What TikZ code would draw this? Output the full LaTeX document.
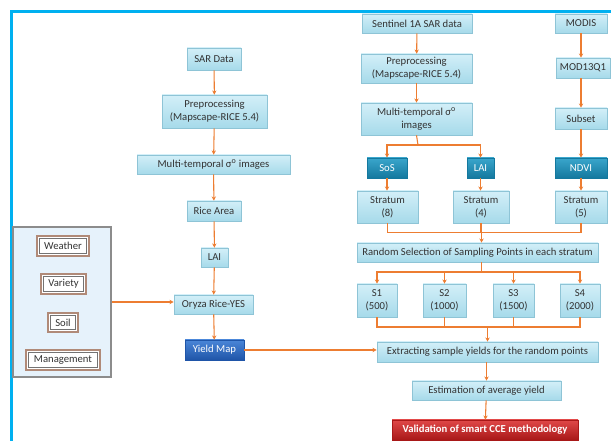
\documentclass[tikz,border=0pt]{standalone}
\usepackage{fontspec}
\setmainfont{Carlito}
\usetikzlibrary{arrows.meta,shadows}
\definecolor{frameblue}{HTML}{00B0F0}
\definecolor{arrowor}{HTML}{ED7D31}
\definecolor{lbtop}{HTML}{D3EFF8}
\definecolor{lbbot}{HTML}{A6DAEA}
\definecolor{lbdraw}{HTML}{8EC4D6}
\definecolor{txtgray}{HTML}{333333}
\definecolor{tealtop}{HTML}{3AA6CC}
\definecolor{tealbot}{HTML}{14789E}
\definecolor{ymtop}{HTML}{4A86D8}
\definecolor{ymbot}{HTML}{1F55A8}
\definecolor{redtop}{HTML}{E04848}
\definecolor{redbot}{HTML}{A81818}
\definecolor{panelfill}{HTML}{E6F2FB}
\definecolor{tagout}{HTML}{B08A78}
\tikzset{
  base/.style={inner sep=0pt, align=center, font=\fontsize{8}{10}\selectfont,
    drop shadow={shadow xshift=0.9pt, shadow yshift=-0.9pt, opacity=0.35, fill=black!60}},
  lbox/.style={base, top color=lbtop, bottom color=lbbot, draw=lbdraw, line width=0.4pt, text=txtgray},
  tbox/.style={base, top color=tealtop, bottom color=tealbot, draw=tealbot, line width=0.4pt, text=white},
  ybox/.style={base, top color=ymtop, bottom color=ymbot, draw=ymbot, line width=0.4pt, text=white},
  rbox/.style={base, top color=redtop, bottom color=redbot, draw=redbot, line width=0.4pt, text=white, font=\fontsize{8}{10}\selectfont\bfseries},
  panel/.style={inner sep=0pt, fill=panelfill, draw=black!45, line width=1.6pt},
  tag/.style={inner sep=0pt, fill=white, draw=tagout, line width=1.3pt, text=txtgray,
    font=\fontsize{8}{10}\selectfont,
    path picture={\draw[black!55, line width=0.9pt]
      ([shift={(1.6pt,-1.6pt)}]path picture bounding box.north west) rectangle
      ([shift={(-1.6pt,1.6pt)}]path picture bounding box.south east);}},
  arr/.style={draw=arrowor, line width=0.8pt, -{Stealth[length=3.2pt,width=3.2pt]}},
  ln/.style={draw=arrowor, line width=0.8pt}
}
\newcommand{\bx}[7]{\node[#2, minimum width={0.75pt*(#5-#3)}, minimum height={0.75pt*(#6-#4)}] (#1) at ({(#3+#5)/2},{(#4+#6)/2}) {#7};}
\begin{document}
\begin{tikzpicture}[x=0.75pt,y=-0.75pt]
\useasboundingbox (0,0) rectangle (611,441);
\clip (0,0) rectangle (611,441);
\fill[white] (0,0) rectangle (611,441);
\draw[frameblue, line width=2pt] (11.5,11.5) rectangle (640,470);

% left column
\bx{sar}{lbox}{187}{48}{241}{70}{SAR Data}
\bx{prel}{lbox}{162}{95}{267}{128}{Preprocessing\\(Mapscape-RICE 5.4)}
\bx{multl}{lbox}{137}{155}{290}{174}{Multi-temporal σ\textsuperscript{o} images}
\bx{rice}{lbox}{187}{201}{241}{221}{Rice Area}
\bx{lail}{lbox}{201}{248}{228}{267}{LAI}
\bx{oryza}{lbox}{174}{295}{253}{314}{Oryza Rice-YES}
\bx{yield}{ybox}{185}{340}{244}{360}{Yield Map}

% panel
\bx{panel}{panel}{13}{227}{111}{377}{}
\bx{weather}{tag}{37}{236}{89}{256}{Weather}
\bx{variety}{tag}{41}{274}{86}{294}{Variety}
\bx{soil}{tag}{48}{313}{78}{332}{Soil}
\bx{manag}{tag}{26}{350}{100}{370}{Management}

% right part
\bx{sent}{lbox}{362}{14}{472}{33}{Sentinel 1A SAR data}
\bx{prer}{lbox}{361}{54}{472}{83}{Preprocessing\\(Mapscape-RICE 5.4)}
\bx{multr}{lbox}{361}{103}{472}{135}{Multi-temporal σ\textsuperscript{o}\\images}
\bx{sos}{tbox}{367}{158}{407}{178}{SoS}
\bx{lair}{tbox}{467}{158}{494}{178}{LAI}
\bx{modis}{lbox}{555}{14}{607}{33}{MODIS}
\bx{mod}{lbox}{556}{58}{610}{78}{MOD13Q1}
\bx{subset}{lbox}{555}{108}{607}{129}{Subset}
\bx{ndvi}{tbox}{555}{158}{607}{178}{NDVI}
\bx{str8}{lbox}{357}{191}{418}{223}{Stratum\\(8)}
\bx{str4}{lbox}{453}{191}{509}{223}{Stratum\\(4)}
\bx{str5}{lbox}{555}{191}{607}{223}{Stratum\\(5)}
\bx{rand}{lbox}{357}{243}{598}{262}{Random Selection of Sampling Points in each stratum}
\bx{s1}{lbox}{357}{284}{397}{317}{S1\\(500)}
\bx{s2}{lbox}{423}{284}{466}{317}{S2\\(1000)}
\bx{s3}{lbox}{493}{284}{534}{317}{S3\\(1500)}
\bx{s4}{lbox}{560}{284}{600}{317}{S4\\(2000)}
\bx{extr}{lbox}{377}{342}{598}{362}{Extracting sample yields for the random points}
\bx{estim}{lbox}{412}{381}{561}{400}{Estimation of average yield}
\bx{valid}{rbox}{392}{420}{578}{440}{Validation of smart CCE methodology}

% left connectors
\draw[arr] (sar) -- (prel);
\draw[arr] (prel) -- (multl);
\draw[arr] (multl) -- (rice);
\draw[arr] (rice) -- (lail);
\draw[arr] (lail) -- (oryza);
\draw[arr] (oryza) -- (yield);
\draw[arr] (panel.east) -- (panel.east -| oryza.west);
\coordinate (yj) at (yield.east);
\draw[arr] (yj) -- (yj -| extr.west);

% right connectors
\draw[arr] (sent) -- (prer);
\draw[arr] (prer) -- (multr);
\coordinate (b1) at (418,145);
\draw[ln] (multr.south) -- (b1);
\draw[arr] (b1) -| (sos.north);
\draw[arr] (b1) -| (lair.north);
\draw[arr] (sos) -- (sos |- str8.north);
\draw[arr] (lair) -- (lair |- str4.north);
\draw[arr] (modis) -- (modis |- mod.north);
\draw[arr] (mod.south -| modis) -- (modis |- subset.north);
\draw[arr] (subset) -- (ndvi);
\draw[arr] (ndvi) -- (str5);
\coordinate (m1) at (481.5,232.5);
\draw[ln] (str8.south) |- (m1);
\draw[ln] (str5.south) |- (m1);
\draw[ln] (str4.south) -- (str4.south |- m1);
\draw[arr] (m1) -- (m1 |- rand.north);
\coordinate (b2) at (481.5,272);
\draw[ln] (b2 |- rand.south) -- (b2);
\draw[arr] (b2) -| (s1.north);
\draw[arr] (b2) -| (s2.north);
\draw[arr] (b2) -| (s3.north);
\draw[arr] (b2) -| (s4.north);
\coordinate (m2) at (487.5,327);
\draw[ln] (s1.south) |- (m2);
\draw[ln] (s4.south) |- (m2);
\draw[ln] (s2.south) -- (s2.south |- m2);
\draw[ln] (s3.south) -- (s3.south |- m2);
\draw[arr] (m2) -- (m2 |- extr.north);
\draw[arr] (extr.south -| estim) -- (estim);
\draw[arr] (estim) -- (valid);
\end{tikzpicture}
\end{document}
